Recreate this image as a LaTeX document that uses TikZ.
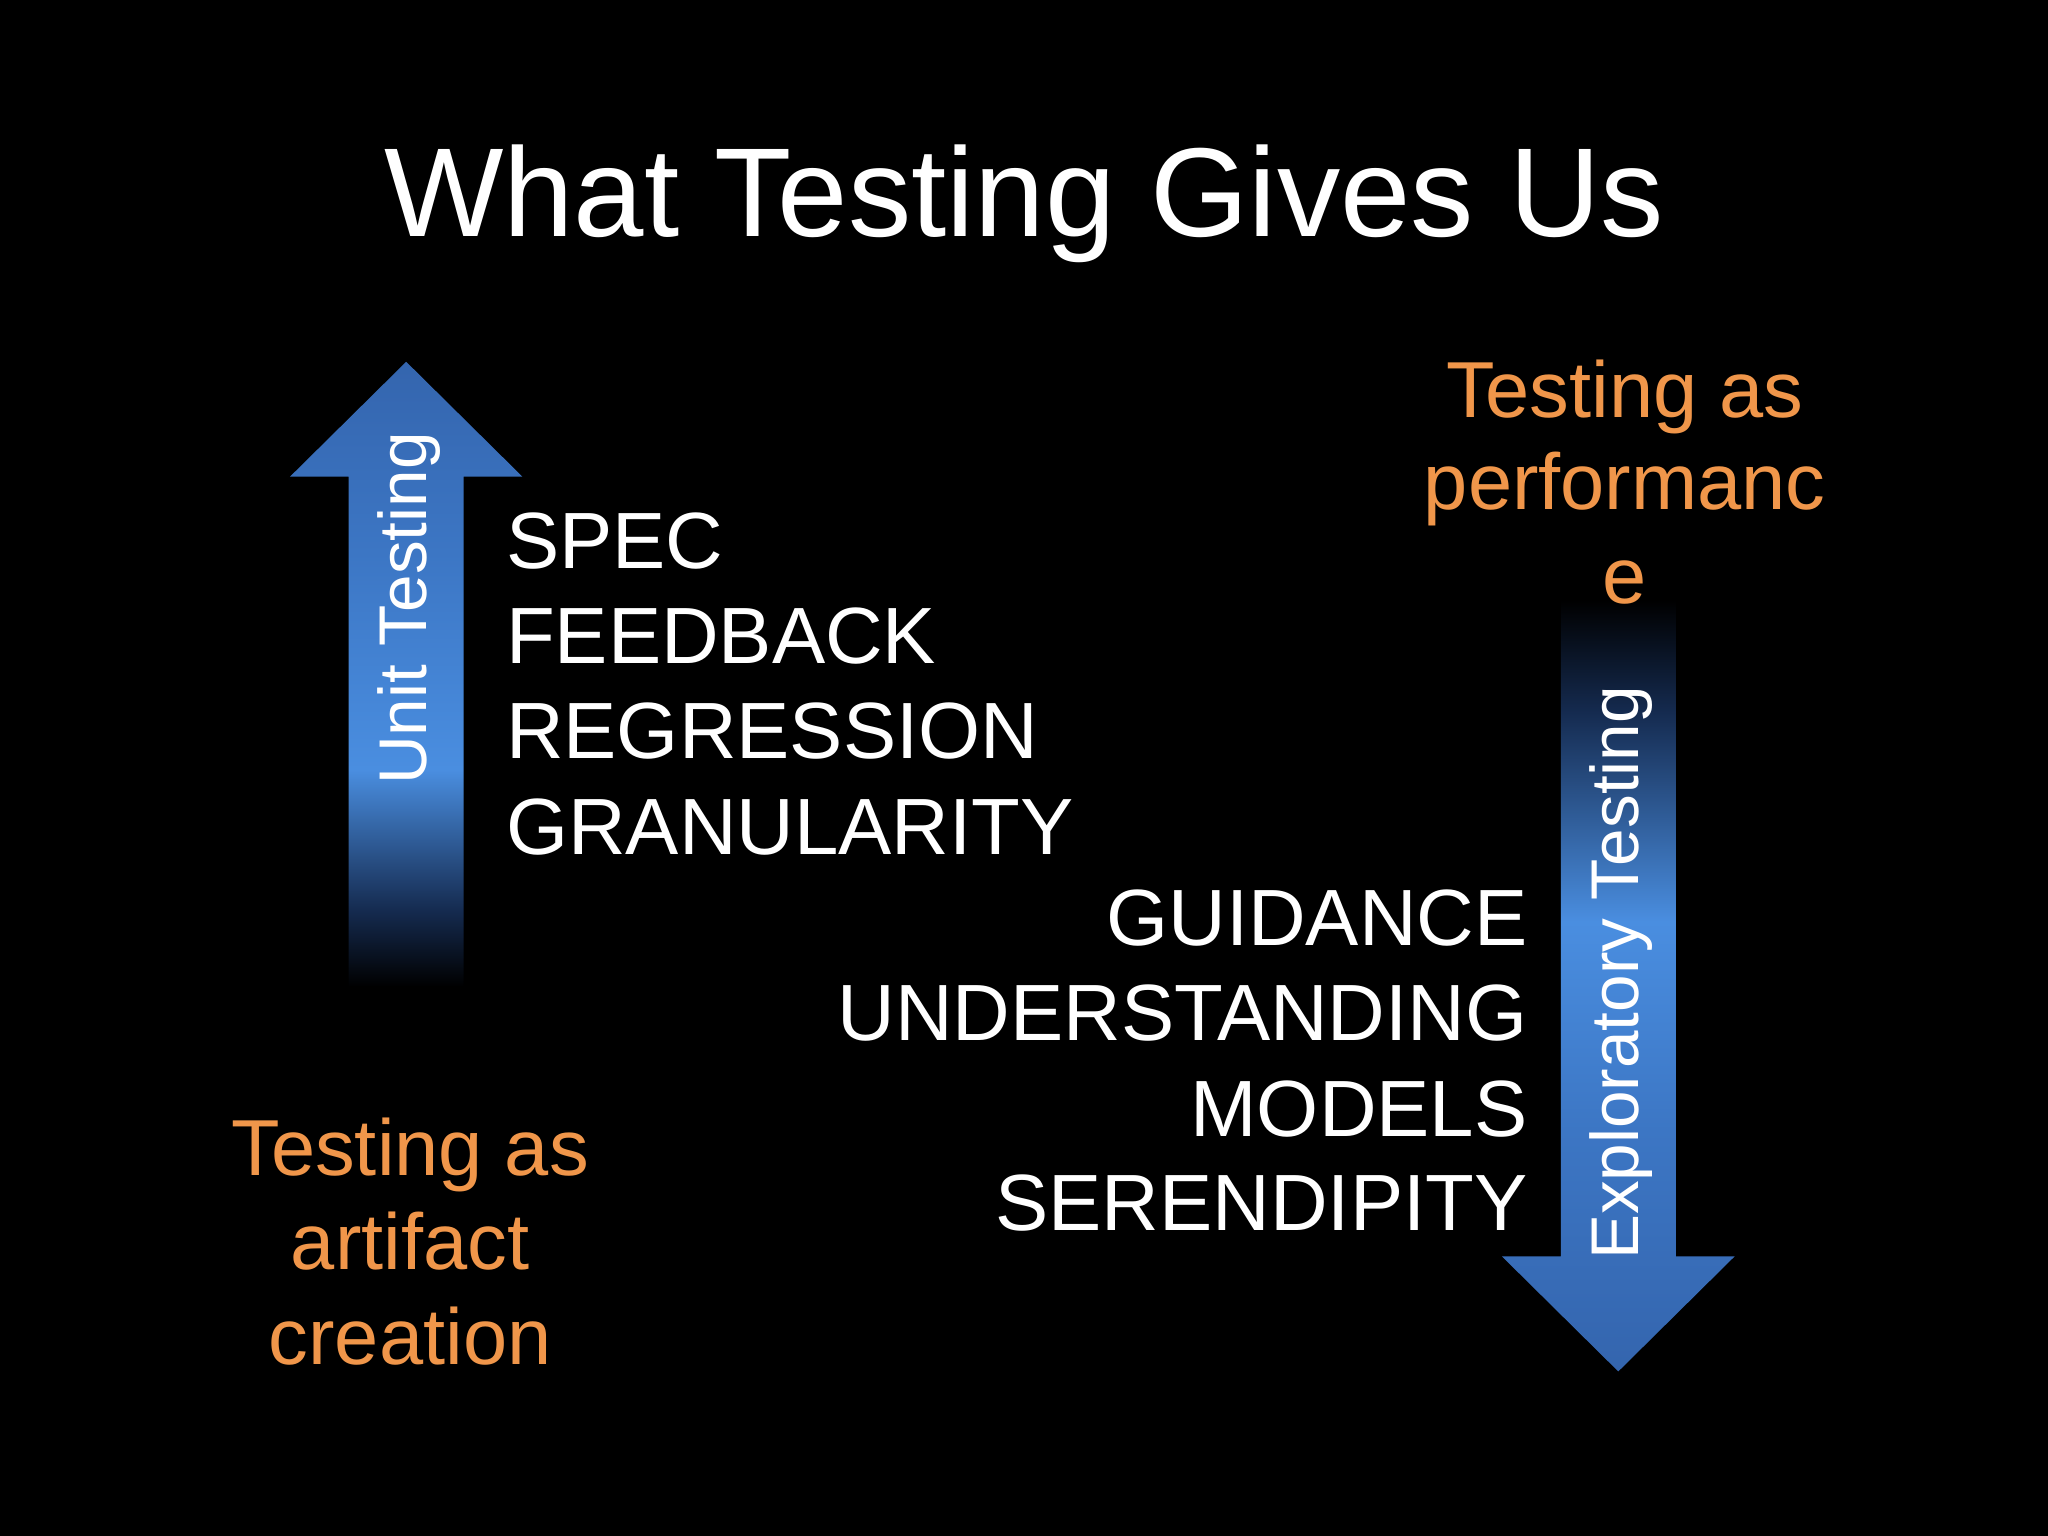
\documentclass[tikz,border=0pt]{standalone}
\usepackage{fontspec}
\setmainfont{Liberation Sans}
\definecolor{orng}{HTML}{F0964A}
\definecolor{bdark}{HTML}{3465AE}
\definecolor{bmid}{HTML}{3C76C4}
\definecolor{bbright}{HTML}{4A8EE0}
\definecolor{bdeep}{HTML}{152B50}
\pgfdeclareverticalshading{upsh}{100bp}{color(0bp)=(black); color(26bp)=(black); color(32bp)=(bdeep); color(43bp)=(bbright); color(60bp)=(bmid); color(75bp)=(bdark); color(100bp)=(bdark)}
\pgfdeclareverticalshading{downsh}{100bp}{color(0bp)=(bdark); color(25bp)=(bdark); color(40bp)=(bmid); color(53bp)=(bbright); color(66bp)=(bdeep); color(73bp)=(black); color(100bp)=(black)}
\begin{document}
\begin{tikzpicture}[x=0.01306cm,y=-0.01306cm,
  item/.style={text=white,font=\fontsize{22.7}{27}\selectfont,inner sep=0pt},
  orng/.style={text=orng,font=\fontsize{22.6}{27}\selectfont,inner sep=0pt,anchor=base},
  rot/.style={text=white,font=\fontsize{19.2}{23}\selectfont,rotate=90,inner sep=0pt}]
\fill[black] (0,0) rectangle (1568,1176);
\useasboundingbox (0,0) rectangle (1568,1176);
\node[text=white,font=\fontsize{36}{43}\selectfont,anchor=base,inner sep=0pt] (title) at (784,181) {What Testing Gives Us};
% up arrow
\shade[shading=upsh]
  (267,765) -- (267,365) -- (222,365) -- (311,277) -- (400,365) -- (355,365) -- (355,765) -- cycle;
\node[rot] (unit) at (313,466) {Unit Testing};
% down arrow
\shade[shading=downsh]
  (1195,435) -- (1283,435) -- (1283,962) -- (1328,962) -- (1239,1050) -- (1150,962) -- (1195,962) -- cycle;
\node[rot] (expl) at (1241,745) {Exploratory Testing};
% left list
\node[item,anchor=base west] (l1) at (387,435) {SPEC};
\node[item,anchor=base west] (l2) at (387,508) {FEEDBACK};
\node[item,anchor=base west] (l3) at (387,581) {REGRESSION};
\node[item,anchor=base west] (l4) at (387,654) {GRANULARITY};
% right list
\node[item,anchor=base east] (r1) at (1170,724) {GUIDANCE};
\node[item,anchor=base east] (r2) at (1170,797) {UNDERSTANDING};
\node[item,anchor=base east] (r3) at (1170,870) {MODELS};
\node[item,anchor=base east] (r4) at (1170,942) {SERENDIPITY};
% orange texts
\node[orng] (o1) at (1244,320) {Testing as};
\node[orng] (o2) at (1244,390) {performanc};
\node[orng] (o3) at (1244,462) {e};
\node[orng] (o4) at (314,900) {Testing as};
\node[orng] (o5) at (314,972) {artifact};
\node[orng] (o6) at (314,1045) {creation};
\end{tikzpicture}
\end{document}
